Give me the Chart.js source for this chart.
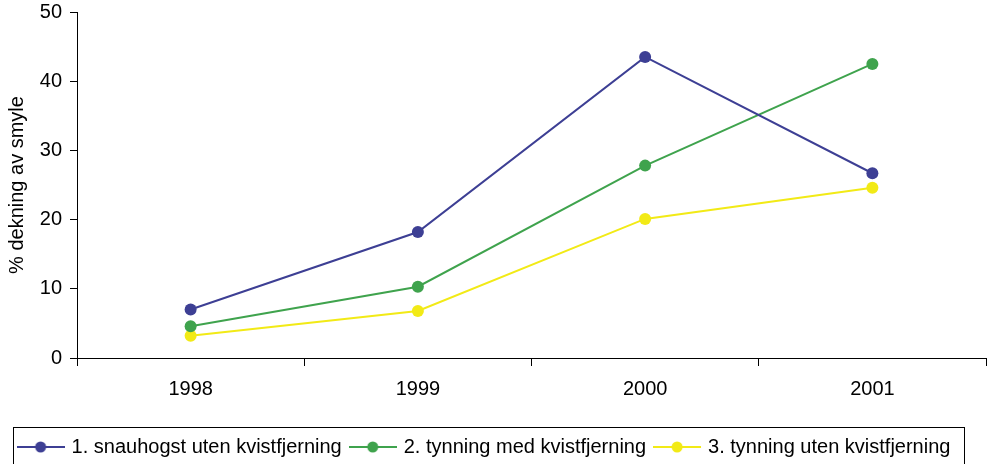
<!DOCTYPE html>
<html>
<head>
<meta charset="utf-8">
<script src="https://cdn.jsdelivr.net/npm/chart.js@4/dist/chart.umd.min.js"></script>
<style>
  html, body { margin: 0; padding: 0; background: #fff; }
  #wrap { width: 987px; height: 464px; }
</style>
</head>
<body>
<div id="wrap"><canvas id="myChart" width="987" height="464"></canvas></div>
<script>
const years = ['1998', '1999', '2000', '2001']
const snauhogst = [7.0, 18.2, 43.5, 26.7]
const tynningMed = [4.6, 10.3, 27.8, 42.5]
const tynningUten = [3.2, 6.8, 20.1, 24.6]
const seriesNames = [
    '1. snauhogst uten kvistfjerning',
    '2. tynning med kvistfjerning',
    '3. tynning uten kvistfjerning'
]
const colors = ['#3d3f94', '#3fa34d', '#f2ea16']

Chart.defaults.font.family = '"Liberation Sans", Arial, sans-serif'
Chart.defaults.font.size = 20
Chart.defaults.color = '#000'

// little line-with-dot symbol for the legend
function legendSymbol(color) {
    const c = document.createElement('canvas')
    c.width = 48
    c.height = 14
    const g = c.getContext('2d')
    g.strokeStyle = color
    g.lineWidth = 2
    g.beginPath()
    g.moveTo(0, 7)
    g.lineTo(48, 7)
    g.stroke()
    g.fillStyle = color
    g.beginPath()
    g.arc(24, 7, 5.5, 0, Math.PI * 2)
    g.fill()
    return c
}

const allValues = [snauhogst, tynningMed, tynningUten]
const datasets = allValues.map((vals, i) => ({
    label: seriesNames[i],
    data: vals,
    borderColor: colors[i],
    backgroundColor: colors[i],
    borderWidth: 2,
    pointRadius: 6,
    pointHoverRadius: 6,
    pointBorderWidth: 0,
    pointStyle: 'circle',
    tension: 0
}))
const symbols = colors.map(legendSymbol)

// nudge the legend a bit to the left and draw a border round it
const legendBorder = {
    id: 'legendBorder',
    beforeDraw(chart) {
        const lg = chart.legend
        if (!lg || lg._nudged) return
        lg.left -= 8
        lg.right -= 8
        lg._nudged = true
    },
    afterDraw(chart) {
        const lg = chart.legend
        if (!lg || !lg.lineWidths) return
        const lineW = lg.lineWidths[0]
        const pad = lg.options.labels.padding
        const start = (lg.left + pad + lg.right - lineW) / 2
        const left = start - 7
        const right = start + lineW - 2 * pad + 23
        const top = lg.top
        const ctx = chart.ctx
        ctx.save()
        ctx.strokeStyle = '#000'
        ctx.lineWidth = 1
        ctx.strokeRect(Math.round(left) + 0.5, Math.round(top) + 0.5, Math.round(right - left), 60)
        ctx.restore()
    }
}

const ctx = document.getElementById('myChart').getContext('2d')
new Chart(ctx, {
    type: 'line',
    data: { labels: years, datasets: datasets },
    options: {
        responsive: false,
        animation: false,
        layout: { autoPadding: false, padding: { left: 0, right: 1, top: 12, bottom: -3 } },
        plugins: {
            tooltip: { enabled: false },
            legend: {
                position: 'bottom',
                labels: {
                    usePointStyle: true,
                    pointStyleWidth: 42,
                    boxHeight: 14,
                    padding: 10,
                    color: '#000',
                    font: { size: 20 },
                    generateLabels(chart) {
                        return chart.data.datasets.map((ds, i) => ({
                            text: ds.label,
                            pointStyle: symbols[i],
                            fillStyle: ds.borderColor,
                            strokeStyle: ds.borderColor,
                            lineWidth: 0,
                            hidden: false,
                            datasetIndex: i
                        }))
                    }
                }
            }
        },
        scales: {
            x: {
                offset: true,
                grid: { offset: true, drawOnChartArea: false, drawTicks: true, tickLength: 8, color: '#000' },
                border: { color: '#000', width: 1 },
                ticks: { color: '#000', padding: 11, font: { size: 20 } },
                afterFit(scale) { scale.height = 69 }
            },
            y: {
                min: 0,
                max: 50,
                grid: { drawOnChartArea: false, drawTicks: true, tickLength: 7, color: '#000' },
                border: { color: '#000', width: 1 },
                ticks: { stepSize: 10, color: '#000', padding: 8, font: { size: 20 } },
                title: { display: true, text: '% dekning av smyle', color: '#000', font: { size: 20 }, padding: 5 },
                afterFit(scale) {
                    scale.width = 77
                    scale.paddingTop = 0
                    scale.paddingBottom = 0
                }
            }
        }
    },
    plugins: [legendBorder]
})
</script>
</body>
</html>
